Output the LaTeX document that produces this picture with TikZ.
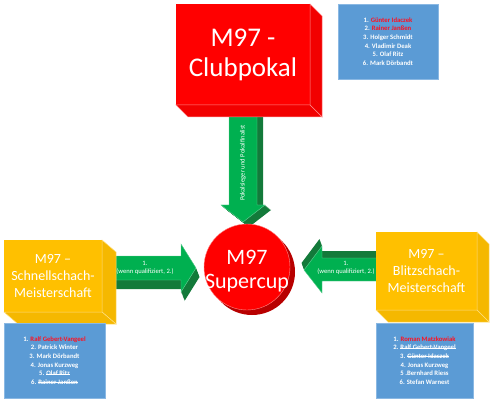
\documentclass[tikz,border=0pt]{standalone}
\usepackage{fontspec}
\setmainfont{Carlito}
\usepackage{xcolor}
\definecolor{cupred}{HTML}{FF0000}
\definecolor{redside}{HTML}{F20000}
\definecolor{redshadow}{HTML}{B80000}
\definecolor{gold}{HTML}{FFC000}
\definecolor{goldside}{HTML}{F5B800}
\definecolor{arrowgreen}{HTML}{00B050}
\definecolor{arrowdark}{HTML}{137A3A}
\definecolor{listblue}{HTML}{5B9BD5}
\definecolor{listedge}{HTML}{8AB8E3}
\definecolor{namered}{HTML}{FF1020}
\usepackage{tikz}
\usetikzlibrary{calc}
\newsavebox{\strikebox}
\newcommand{\strikename}[1]{\sbox{\strikebox}{#1}\rlap{\rule[0.26em]{\wd\strikebox}{0.45pt}}\usebox{\strikebox}}
\tikzset{
  cube/.style={rectangle, inner sep=0, outer sep=0, text=white, align=center},
  listbox/.style={rectangle, fill=listblue, draw=listedge, line width=0.6pt, inner sep=0,
    text=white, font=\fontsize{6.7}{8.6}\selectfont\bfseries, align=center},
  arrowtext/.style={text=white, font=\fontsize{6.6}{8.5}\selectfont, align=center},
  clubarrow/.style={insert path={(229,100) -- (257,100) -- (257,205) -- (265,205) -- (243,222) -- (221,205) -- (229,205) -- cycle}},
  schnellarrow/.style={insert path={(100,256) -- (181,256) -- (181,244) -- (196,268) -- (181,292) -- (181,280) -- (100,280) -- cycle}},
  blitzarrow/.style={insert path={(380,258) -- (322,258) -- (322,246) -- (304,270) -- (322,293) -- (322,281) -- (380,281) -- cycle}}
}

\begin{document}
\begin{tikzpicture}[x=1pt, y=-1pt]
  \useasboundingbox (0,0) rectangle (492,403);
  % block arrows (drawn first, the boxes lie on their ends)
  \foreach \k in {1,...,10}
    \fill[arrowdark, shift={(0.6*\k,0.5*\k)}, clubarrow];
  \fill[arrowgreen, draw=arrowgreen!60!white, line width=0.4pt, clubarrow];
  \foreach \k in {1,...,10}
    \fill[arrowdark, shift={(0.35*\k,0.9*\k)}, schnellarrow];
  \fill[arrowgreen, draw=arrowgreen!60!white, line width=0.4pt, schnellarrow];
  \foreach \k in {1,...,10}
    \fill[arrowdark, shift={(-0.25*\k,-0.7*\k)}, blitzarrow];
  \fill[arrowgreen, draw=arrowgreen!60!white, line width=0.4pt, blitzarrow];
  \node[arrowtext, rotate=90] (pokaltext) at (243,163) {Pokalsieger und Pokalfinalist};
  \node[arrowtext] (schnelltext) at (145,268) {1.\\(wenn qualifiziert, 2.)};
  \node[arrowtext] (blitztext) at (346,268) {1.\\(wenn qualifiziert, 2.)};

  % Clubpokal cube
  \node[cube, fill=cupred, minimum width=134pt, minimum height=101pt, font=\fontsize{27}{30}\selectfont] (club) at (243,54.5) {M97 -\\Clubpokal};
  \fill[redside, draw=cupred!45!white, line width=0.5pt] (club.north east) -- ++(12,12) -- ($(club.south east)+(12,12)$) -- (club.south east) -- cycle;
  \fill[redside, draw=cupred!45!white, line width=0.5pt] (club.south west) -- ++(12,12) -- ($(club.south east)+(12,12)$) -- (club.south east) -- cycle;

  % Schnellschach cube
  \node[cube, fill=gold, minimum width=98pt, minimum height=72pt, font=\fontsize{14}{17}\selectfont] (schnell) at (53,276) {M97 --\\Schnellschach-\\Meisterschaft};
  \fill[goldside, draw=gold!50!white, line width=0.5pt] (schnell.north east) -- ++(14,12) -- ($(schnell.south east)+(14,12)$) -- (schnell.south east) -- cycle;
  \fill[goldside, draw=gold!50!white, line width=0.5pt] (schnell.south west) -- ++(14,12) -- ($(schnell.south east)+(14,12)$) -- (schnell.south east) -- cycle;

  % Blitzschach cube
  \node[cube, fill=gold, minimum width=101pt, minimum height=78pt, font=\fontsize{14}{17}\selectfont] (blitz) at (426.5,271) {M97 --\\Blitzschach-\\Meisterschaft};
  \fill[goldside, draw=gold!50!white, line width=0.5pt] (blitz.north east) -- ++(12,12) -- ($(blitz.south east)+(12,12)$) -- (blitz.south east) -- cycle;
  \fill[goldside, draw=gold!50!white, line width=0.5pt] (blitz.south west) -- ++(12,12) -- ($(blitz.south east)+(12,12)$) -- (blitz.south east) -- cycle;

  % Supercup
  \coordinate (cupc) at (247,267);
  \fill[redshadow] ($(cupc)+(5,5)$) circle (43);
  \node[circle, fill=cupred, draw=cupred!45!white, line width=0.4pt, minimum size=86pt, inner sep=0] (cup) at (cupc) {};
  \node[text=white, font=\fontsize{22}{24}\selectfont, align=center] (cuptext) at ($(cup.center)+(0,4)$) {M97\\Supercup};

  % result lists
  \node[listbox, minimum width=100pt, minimum height=75pt] (clublist) at (388,41.5) {1. \textcolor{namered}{Günter Idaczek}\\2. \textcolor{namered}{Rainer Janßen}\\3. Holger Schmidt\\4. Vladimir Deak\\5. Olaf Ritz\\6. Mark Dörbandt};
  \node[listbox, minimum width=101pt, minimum height=75pt] (schnelllist) at (54.5,360.5) {1. \textcolor{namered}{Ralf Gebert-Vangeel}\\2. Patrick Winter\\3. Mark Dörbandt\\4. Jonas Kurzweg\\5. \strikename{Olaf Ritz}\\6. \strikename{Rainer Janßen}};
  \node[listbox, minimum width=97pt, minimum height=75pt] (blitzlist) at (424.5,360.5) {1. \textcolor{namered}{Roman Matzkowiak}\\2. \strikename{Ralf Gebert-Vangeel}\\3. \strikename{Günter Idaczek}\\4. Jonas Kurzweg\\5 .Bernhard Riess\\6. Stefan Warnest};
\end{tikzpicture}
\end{document}
